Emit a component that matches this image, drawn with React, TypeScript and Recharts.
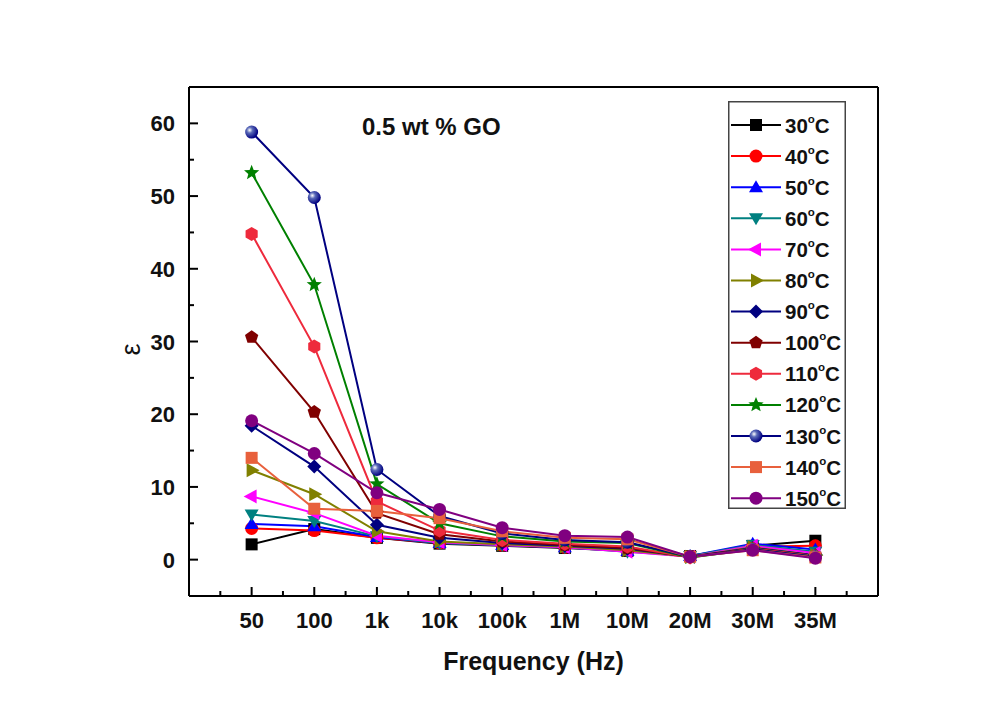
import React from "react";
import { LineChart, Line, XAxis, YAxis, Legend, Label } from "recharts";

// frequency categories on the x axis
const categories = ["50", "100", "1k", "10k", "100k", "1M", "10M", "20M", "30M", "35M"];
const temps = ["30", "40", "50", "60", "70", "80", "90", "100", "110", "120", "130", "140", "150"];

// dielectric constant per temperature
const eps30 = [2.1, 4.2, 3.0, 2.2, 1.9, 1.6, 1.2, 0.5, 1.9, 2.6];
const eps40 = [4.3, 4.0, 3.0, 2.3, 2.0, 1.7, 1.3, 0.4, 1.8, 1.9];
const eps50 = [4.9, 4.6, 3.1, 2.3, 2.0, 1.7, 1.2, 0.5, 2.2, 1.4];
const eps60 = [6.2, 5.3, 3.2, 2.3, 2.0, 1.7, 1.1, 0.5, 2.0, 1.1];
const eps70 = [8.7, 6.4, 3.3, 2.4, 2.0, 1.7, 1.1, 0.4, 1.9, 0.9];
const eps80 = [12.3, 9.0, 3.9, 2.5, 2.1, 1.8, 1.3, 0.4, 1.7, 0.6];
const eps90 = [18.4, 12.8, 4.8, 3.0, 2.3, 1.9, 1.5, 0.4, 1.6, 0.6];
const eps100 = [30.6, 20.3, 6.4, 3.5, 2.5, 2.0, 1.6, 0.4, 1.5, 0.5];
const eps110 = [44.8, 29.3, 8.0, 4.0, 2.7, 2.2, 1.8, 0.3, 1.5, 0.5];
const eps120 = [53.2, 37.8, 10.4, 5.0, 3.2, 2.5, 2.3, 0.3, 1.4, 0.4];
const eps130 = [58.8, 49.8, 12.4, 6.0, 3.6, 2.7, 2.4, 0.4, 1.4, 0.4];
const eps140 = [14.0, 7.0, 6.7, 5.7, 3.9, 3.0, 2.8, 0.4, 1.3, 0.3];
const eps150 = [19.1, 14.6, 9.2, 6.9, 4.4, 3.3, 3.1, 0.4, 1.3, 0.2];

const values = [eps30, eps40, eps50, eps60, eps70, eps80, eps90, eps100, eps110, eps120, eps130, eps140, eps150];
const colors = ["#000000", "#ff0000", "#0000ff", "#008080", "#ff00ff", "#808000", "#000080", "#800000", "#ee2a3c", "#008000", "#000080", "#e8603c", "#800080"];
const shapes = ["square", "circle", "up", "down", "left", "right", "diamond", "pentagon", "hexagon", "star", "sphere", "square", "circle"];

const yTicks = [0, 5, 10, 15, 20, 25, 30, 35, 40, 45, 50, 55, 60];
const xTicks = [0.5, 1, 1.5, 2, 2.5, 3, 3.5, 4, 4.5, 5, 5.5, 6, 6.5, 7, 7.5, 8, 8.5, 9, 9.5, 10, 10.5];

const FONT = "'Liberation Sans', Arial, sans-serif";

const series = temps.map((t, i) => ({ key: "t" + t, temp: t, color: colors[i], shape: shapes[i], values: values[i] }));

const data = categories.map((c, j) => {
  const row: any = { x: j + 1, freq: c };
  series.forEach((s) => (row[s.key] = s.values[j]));
  return row;
});

const poly = (cx: number, cy: number, n: number, r: number, rot: number) =>
  Array.from({ length: n }, (_, k) => {
    const a = rot + (k * 2 * Math.PI) / n;
    return `${cx + r * Math.cos(a)},${cy + r * Math.sin(a)}`;
  }).join(" ");

const star = (cx: number, cy: number, ro: number, ri: number) =>
  Array.from({ length: 10 }, (_, k) => {
    const a = -Math.PI / 2 + (k * Math.PI) / 5;
    const r = k % 2 === 0 ? ro : ri;
    return `${cx + r * Math.cos(a)},${cy + r * Math.sin(a)}`;
  }).join(" ");

let sphereId = 0;

const Marker = ({ shape, cx, cy, color }: { shape: string; cx: number; cy: number; color: string }) => {
  if (cx == null || cy == null) return null;
  switch (shape) {
    case "square":
      return <rect x={cx - 6} y={cy - 6} width={12} height={12} fill={color} />;
    case "circle":
      return <circle cx={cx} cy={cy} r={6.5} fill={color} />;
    case "up":
      return <polygon points={`${cx},${cy - 7} ${cx + 7},${cy + 5} ${cx - 7},${cy + 5}`} fill={color} />;
    case "down":
      return <polygon points={`${cx},${cy + 7} ${cx + 7},${cy - 5} ${cx - 7},${cy - 5}`} fill={color} />;
    case "left":
      return <polygon points={`${cx - 8},${cy} ${cx + 5},${cy - 7} ${cx + 5},${cy + 7}`} fill={color} />;
    case "right":
      return <polygon points={`${cx + 8},${cy} ${cx - 5},${cy - 7} ${cx - 5},${cy + 7}`} fill={color} />;
    case "diamond":
      return <polygon points={`${cx},${cy - 7} ${cx + 7},${cy} ${cx},${cy + 7} ${cx - 7},${cy}`} fill={color} />;
    case "pentagon":
      return <polygon points={poly(cx, cy, 5, 7, -Math.PI / 2)} fill={color} />;
    case "hexagon":
      return <polygon points={poly(cx, cy, 6, 7, -Math.PI / 2)} fill={color} />;
    case "star":
      return <polygon points={star(cx, cy, 8, 3.5)} fill={color} />;
    case "sphere": {
      const id = "sph" + sphereId++;
      return (
        <g>
          <defs>
            <radialGradient id={id} cx="35%" cy="35%" r="65%">
              <stop offset="0%" stopColor="#ffffff" />
              <stop offset="35%" stopColor="#5a6ab8" />
              <stop offset="100%" stopColor={color} />
            </radialGradient>
          </defs>
          <circle cx={cx} cy={cy} r={6.5} fill={`url(#${id})`} />
        </g>
      );
    }
    default:
      return null;
  }
};

const XTick = (props: any) => {
  const { x, y, payload } = props;
  const v = payload.value;
  const major = Number.isInteger(v);
  return (
    <g>
      <line x1={x} x2={x} y1={y} y2={y - (major ? 9 : 5)} stroke="#000" strokeWidth={2} />
      {major && (
        <text x={x} y={y + 32} textAnchor="middle" fontFamily={FONT} fontWeight="bold" fontSize={22} fill="#111">
          {categories[v - 1]}
        </text>
      )}
    </g>
  );
};

const YTick = (props: any) => {
  const { x, y, payload } = props;
  const v = payload.value;
  const major = v % 10 === 0;
  return (
    <g>
      <line x1={x} x2={x + (major ? 9 : 5)} y1={y} y2={y} stroke="#000" strokeWidth={2} />
      {major && (
        <text x={x - 14} y={y + 8} textAnchor="end" fontFamily={FONT} fontWeight="bold" fontSize={22} fill="#111">
          {v}
        </text>
      )}
    </g>
  );
};

const LegendBox = () => (
  <svg width={118} height={408} style={{ display: "block", overflow: "visible" }}>
    <rect x={0.75} y={0.75} width={116.5} height={406.5} fill="#fff" stroke="#444" strokeWidth={1.5} />
    {series.map((s, i) => {
      const cy = 24 + i * 31.1;
      return (
        <g key={s.key}>
          <line x1={3} x2={53} y1={cy} y2={cy} stroke={s.color} strokeWidth={2} />
          <Marker shape={s.shape} cx={28} cy={cy} color={s.color} />
          <text x={57} y={cy + 7.5} fontFamily={FONT} fontWeight="bold" fontSize={20.5} fill="#111">
            {s.temp}
            <tspan dy={-10} fontSize={11.5}>o</tspan>
            <tspan dy={10}>C</tspan>
          </text>
        </g>
      );
    })}
  </svg>
);

export default function App() {
  return (
    <div style={{ position: "relative", width: 994, height: 697, background: "#fff" }}>
      <LineChart width={994} height={697} data={data} margin={{ top: 69, right: 114, bottom: 29, left: 81 }}>
        <XAxis
          dataKey="x"
          type="number"
          domain={[0, 11]}
          ticks={xTicks}
          interval={0}
          tick={<XTick />}
          tickLine={false}
          tickSize={0}
          tickMargin={0}
          height={80}
          axisLine={{ stroke: "#000", strokeWidth: 2 }}
        >
          <Label
            value="Frequency (Hz)"
            position="insideBottom"
            offset={6}
            style={{ fontFamily: FONT, fontWeight: "bold", fontSize: 25, fill: "#111" }}
          />
        </XAxis>
        <XAxis xAxisId="top" orientation="top" dataKey="x" type="number" domain={[0, 11]} tick={false} tickLine={false} height={10} axisLine={{ stroke: "#000", strokeWidth: 2 }} />
        <YAxis
          type="number"
          domain={[-5, 65]}
          ticks={yTicks}
          interval={0}
          tick={<YTick />}
          tickLine={false}
          tickSize={0}
          tickMargin={0}
          width={100}
          axisLine={{ stroke: "#000", strokeWidth: 2 }}
        >
          <Label
            content={(p: any) => {
              const vb = p.viewBox;
              const lx = vb.x + 42;
              const ly = vb.y + vb.height / 2 + 8;
              return (
                <text x={lx} y={ly} transform={`rotate(-90 ${lx} ${ly})`} textAnchor="middle" dominantBaseline="central" fontFamily={FONT} fontSize={27} fill="#111">
                  ε
                </text>
              );
            }}
          />
        </YAxis>
        <YAxis yAxisId="right" orientation="right" type="number" domain={[-5, 65]} tick={false} tickLine={false} width={10} axisLine={{ stroke: "#000", strokeWidth: 2 }} />
        <Legend
          layout="vertical"
          align="center"
          verticalAlign="middle"
          content={<LegendBox />}
          wrapperStyle={{ position: "absolute", left: 720, top: 93, width: 118, height: 408 }}
        />
        {series.map((s) => (
          <Line
            key={s.key}
            dataKey={s.key}
            stroke={s.color}
            strokeWidth={2}
            isAnimationActive={false}
            dot={(p: any) => <Marker key={`${s.key}-${p.index}`} shape={s.shape} cx={p.cx} cy={p.cy} color={s.color} />}
            activeDot={false}
          />
        ))}
      </LineChart>
      <div
        style={{
          position: "absolute",
          left: 354,
          top: 105,
          fontFamily: FONT,
          fontWeight: "bold",
          fontSize: 24,
          color: "#111",
          whiteSpace: "nowrap",
        }}
      >
        0.5 wt % GO
      </div>
    </div>
  );
}
